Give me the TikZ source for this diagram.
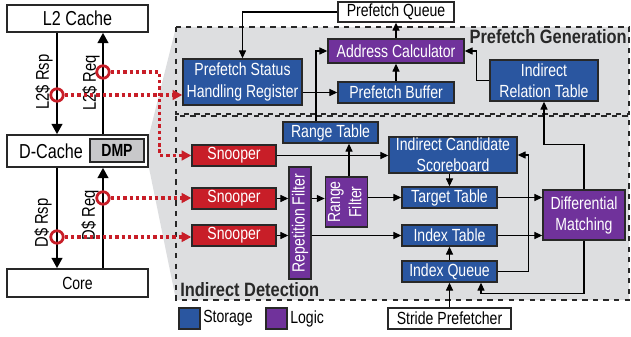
\documentclass[tikz,border=0pt]{standalone}
\usepackage{fontspec}
\usepackage{graphicx}
\usetikzlibrary{arrows.meta}

\newfontfamily\narrowsf[FakeStretch=0.8]{Liberation Sans}
\newfontfamily\headsf[FakeStretch=0.85]{Liberation Sans}

\definecolor{storeblue}{RGB}{42,86,160}
\definecolor{logicpurple}{RGB}{112,50,155}
\definecolor{snoopred}{RGB}{200,30,40}
\definecolor{dmpgray}{RGB}{200,200,202}
\definecolor{areagray}{RGB}{221,222,224}
\definecolor{edgegray}{RGB}{40,40,40}

\tikzstyle{box} = [rectangle, draw=edgegray, line width=0.8pt, inner sep=0pt, align=center, font=\narrowsf\fontsize{10}{12}\selectfont]
\tikzstyle{storage} = [box, fill=storeblue, text=white]
\tikzstyle{logic} = [box, fill=logicpurple, text=white]
\tikzstyle{snoop} = [box, fill=snoopred, text=white, minimum width=1.68cm, minimum height=0.42cm]
\tikzstyle{plain} = [box, fill=white]
\tikzstyle{cache} = [box, fill=white, font=\narrowsf\fontsize{11.5}{13}\selectfont]
\tikzstyle{tag} = [rotate=90, inner sep=0pt, font=\narrowsf\fontsize{10.5}{12}\selectfont]
\tikzstyle{txt} = [inner sep=0pt, font=\narrowsf\fontsize{10}{12}\selectfont]
\tikzstyle{head} = [inner sep=0pt, text=edgegray, font=\headsf\bfseries\fontsize{11}{13}\selectfont]
\tikzstyle{arrow} = [line width=0.6pt, -{Triangle[length=4.5pt,width=4pt]}]
\tikzstyle{bus} = [line width=1.7pt, -{Triangle[length=6pt,width=6pt]}]
\tikzstyle{tap} = [draw=snoopred, line width=2pt, dash pattern=on 2pt off 1.6pt, -{Triangle[length=5.5pt,width=5.5pt,fill=snoopred]}]
\tikzstyle{probe} = [circle, draw=snoopred, line width=1.6pt, minimum size=0.25cm, inner sep=0pt]
\tikzstyle{region} = [draw=edgegray, dashed, line width=0.7pt]

\begin{document}
\begin{tikzpicture}[x=0.02cm, y=-0.02cm]
	\useasboundingbox (0,0) rectangle (631,337);

	% DMP blow-up
	\fill [areagray] (148,139) -- (176,27) -- (629,27) -- (629,300) -- (176,300) -- (148,163) -- cycle;
	\draw [region] (176,27) rectangle (629,114);
	\draw [region] (176,116) rectangle (629,300);
	\node (genhead) [head, anchor=east] at (627,37) {Prefetch Generation};
	\node (dethead) [head, anchor=west] at (180,290) {Indirect Detection};

	% memory side
	\node (l2) [cache, minimum width=2.82cm, minimum height=0.54cm] at (77.5,18.5) {L2 Cache};
	\node (dcache) [cache, minimum width=2.82cm, minimum height=0.64cm] at (77.5,151) {};
	\node (dctext) [cache, draw=none, fill=none] at (51,151) {D-Cache};
	\node (dmp) [box, fill=dmpgray, minimum width=1.08cm, minimum height=0.46cm, font=\narrowsf\bfseries\fontsize{10}{12}\selectfont] at (117,150.5) {DMP};
	\node (core) [cache, minimum width=2.82cm, minimum height=0.56cm, font=\narrowsf\fontsize{10}{12}\selectfont] at (77.5,283) {Core};
	\coordinate (rspx) at (57,0);
	\coordinate (reqx) at (103,0);

	\draw [bus] (l2.south -| rspx) -- (dcache.north -| rspx);
	\draw [bus] (dcache.north -| reqx) -- (l2.south -| reqx);
	\draw [bus] (dcache.south -| rspx) -- (core.north -| rspx);
	\draw [bus] (core.north -| reqx) -- (dcache.south -| reqx);
	\node (l2rsptag) [tag] at (44,82) {L2\$ Rsp};
	\node (l2reqtag) [tag] at (91,83) {L2\$ Req};
	\node (drsptag) [tag] at (43,223) {D\$ Rsp};
	\node (dreqtag) [tag] at (90,215) {D\$ Req};

	% prefetch generation
	\node (pq) [plain, minimum width=2.32cm, minimum height=0.40cm] at (396,12) {Prefetch Queue};
	\node (pshr) [storage, minimum width=2.38cm, minimum height=0.92cm] at (242.5,82) {Prefetch Status\\Handling Register};
	\node (addr) [logic, minimum width=2.72cm, minimum height=0.48cm] at (396,51) {Address Calculator};
	\node (pbuf) [storage, minimum width=2.32cm, minimum height=0.42cm] at (396,92.5) {Prefetch Buffer};
	\node (irt) [storage, minimum width=2.16cm, minimum height=0.82cm] at (544,80.5) {Indirect\\Relation Table};

	% indirect detection
	\node (snoop1) [snoop] at (234,155.5) {Snooper};
	\node (snoop2) [snoop] at (234,198.5) {Snooper};
	\node (snoop3) [snoop] at (234,235.5) {Snooper};
	\node (rtab) [storage, minimum width=1.9cm, minimum height=0.42cm] at (330.5,132.5) {Range Table};
	\node (rep) [logic, minimum width=0.44cm, minimum height=2.24cm] at (300,223) {\rotatebox{90}{Repetition Filter}};
	\node (rfilt) [logic, minimum width=0.78cm, minimum height=1.0cm] at (346.5,202) {\rotatebox{90}{\begin{tabular}{@{}c@{}}Range\\Filter\end{tabular}}};
	\node (ics) [storage, minimum width=2.56cm, minimum height=0.72cm] at (453,155) {Indirect Candidate\\Scoreboard};
	\node (ttab) [storage, minimum width=1.9cm, minimum height=0.42cm] at (449.5,197.5) {Target Table};
	\node (itab) [storage, minimum width=1.9cm, minimum height=0.42cm] at (449.5,235.5) {Index Table};
	\node (iq) [storage, minimum width=1.9cm, minimum height=0.42cm] at (449.5,271.5) {Index Queue};
	\node (dm) [logic, minimum width=1.64cm, minimum height=1.0cm] at (584,215) {Differential\\Matching};
	\node (stride) [plain, minimum width=2.46cm, minimum height=0.42cm] at (449.5,318.5) {Stride Prefetcher};

	% legend
	\node (keystore) [storage, minimum width=0.42cm, minimum height=0.42cm] at (189.5,318.5) {};
	\node (keystoretxt) [txt, anchor=west] at (203,318.5) {Storage};
	\node (keylogic) [logic, minimum width=0.42cm, minimum height=0.42cm] at (276.5,318.5) {};
	\node (keylogictxt) [txt, anchor=west] at (290,318.5) {Logic};

	%arrow
	\draw [arrow] (pq.west) -| (pshr.north);
	\draw [arrow] (pshr.east |- pbuf) -- (pbuf.west);
	\draw [arrow] (pbuf.north) -- (addr.south);
	\draw [arrow] (addr.north) -- (pq.south);
	\draw [arrow] (irt.west) -- ++(-13,0) |- (addr.east);
	\draw [arrow] ([xshift=-0.29cm]rtab.north) |- (addr.west);
	\draw [arrow] (dm.north) -- ++(0,-45) -| (irt.south);

	\draw [arrow] (snoop1.east) -- (ics.west |- snoop1);
	\draw [arrow] (snoop2.east) -- (rep.west |- snoop2);
	\draw [arrow] (snoop3.east) -- (rep.west |- snoop3);
	\draw [arrow] (rep.east |- snoop2) -- (rfilt.west |- snoop2);
	\draw [arrow] (rep.east |- itab) -- (itab.west);
	\draw [arrow] (rfilt.east |- ttab) -- (ttab.west);
	\draw [arrow] ([xshift=0.05cm]rfilt.north) -- ([xshift=0.05cm]rtab.south -| rfilt.north);
	\draw [arrow] (ics.south -| ttab.north) -- (ttab.north);
	\draw [arrow] (ttab.east) -- (dm.west |- ttab);
	\draw [arrow] (itab.east) -- (dm.west |- itab);
	\draw [arrow] (iq.east) -- ++(31,0) |- (ics.east);
	\draw [arrow] (iq.north) -- (itab.south);
	\draw [arrow] (stride.north) -- (iq.south);
	\draw [arrow] (dm.south) -- ++(0,53) -| ([xshift=0.63cm]iq.south);

	% taps on the cache buses
	\node (l2req) [probe] at (103,72) {};
	\node (l2rsp) [probe] at (57,95) {};
	\node (dreq) [probe] at (103,198) {};
	\node (drsp) [probe] at (57,237) {};
	\draw [tap] (l2rsp.east) -- (pshr.west |- l2rsp);
	\draw [tap] (l2req.east) -- ++(49,0) |- (snoop1.west);
	\draw [tap] (dreq.east) -- (snoop2.west |- dreq);
	\draw [tap] (drsp.east) -- (snoop3.west |- drsp);

\end{tikzpicture}
\end{document}
